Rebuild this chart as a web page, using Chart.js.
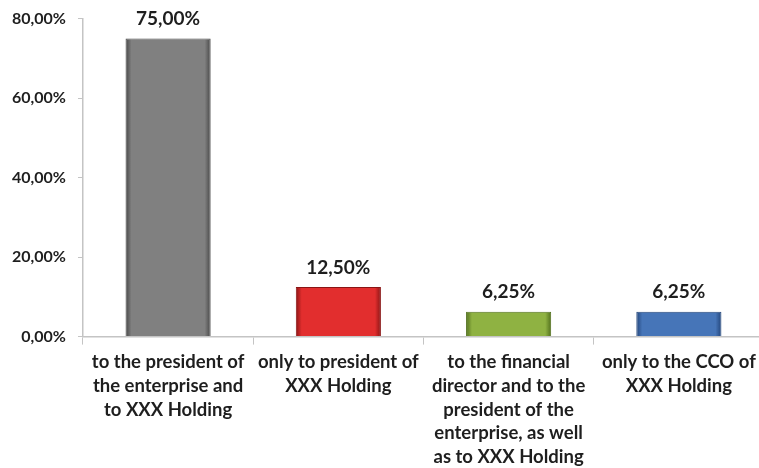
<!DOCTYPE html>
<html>
<head>
<meta charset="utf-8">
<script src="https://cdn.jsdelivr.net/npm/chart.js@4/dist/chart.umd.min.js"></script>
<style>
    html, body { margin: 0; padding: 0; background: #fff; overflow: hidden; }
    #wrap { width: 764px; height: 478px; margin-top: -3px; }
</style>
</head>
<body>
<div id="wrap"><canvas id="reportChart"></canvas></div>
<script>
// who the report goes to, share of answers in percent
const categories = [
    ['to the president of', 'the enterprise and', 'to XXX Holding'],
    ['only to president of', 'XXX Holding'],
    ['to the financial', 'director and to the', 'president of the', 'enterprise, as well', 'as to XXX Holding'],
    ['only to the CCO of', 'XXX Holding']
];
const shares = [75, 12.5, 6.25, 6.25];
const barColors = ['#808080', '#e22e2e', '#8fb242', '#4675b8'];
const edgeColors = ['#474747', '#8a1414', '#52701d', '#23457a'];
const yTicks = [0, 20, 40, 60, 80];

const FONT = 'Lato, "Open Sans", sans-serif';
const AXIS = '#c4c4c4';

function pct(v) {
    return v.toFixed(2).replace('.', ',') + '%';
}

// darker fringe on both sides of every bar
function barFill(c) {
    let x = c.chart.scales.x;
    if (!x || x.width === undefined) return barColors[c.dataIndex];
    let cx = x.getPixelForValue(c.dataIndex);
    let half = x.width / categories.length * 0.25;
    let g = c.chart.ctx.createLinearGradient(cx - half, 0, cx + half, 0);
    g.addColorStop(0, edgeColors[c.dataIndex]);
    g.addColorStop(0.07, barColors[c.dataIndex]);
    g.addColorStop(0.93, barColors[c.dataIndex]);
    g.addColorStop(1, edgeColors[c.dataIndex]);
    return g;
}

const valueLabels = {
    id: 'valueLabels',
    afterDatasetsDraw(chart) {
        let ctx = chart.ctx;
        let meta = chart.getDatasetMeta(0);
        ctx.save();
        ctx.font = 'bold 19px ' + FONT;
        ctx.fillStyle = '#1e1e1e';
        ctx.textAlign = 'center';
        ctx.textBaseline = 'bottom';
        meta.data.forEach(function (bar, i) {
            ctx.fillText(pct(shares[i]), bar.x, bar.y - 10);
        });
        ctx.restore();
    }
};

new Chart(document.getElementById('reportChart'), {
    type: 'bar',
    data: {
        labels: categories,
        datasets: [{
            data: shares,
            backgroundColor: barFill,
            borderColor: edgeColors,
            borderWidth: 1,
            categoryPercentage: 1,
            barPercentage: 0.5
        }]
    },
    options: {
        responsive: true,
        maintainAspectRatio: false,
        animation: false,
        layout: { padding: { top: 9, left: 0, right: 0, bottom: 0 } },
        plugins: {
            legend: { display: false },
            tooltip: { enabled: false }
        },
        scales: {
            y: {
                min: 0,
                max: 80,
                afterBuildTicks(axis) {
                    axis.ticks = yTicks.map(v => ({ value: v }));
                },
                grid: { drawOnChartArea: false, color: AXIS, tickLength: 5 },
                border: { color: AXIS, width: 1.5 },
                ticks: {
                    callback: v => pct(v),
                    color: '#1e1e1e',
                    padding: 12,
                    font: { family: FONT, size: 16, weight: 'bold' }
                }
            },
            x: {
                grid: { drawOnChartArea: false, color: AXIS, tickLength: 8, offset: true },
                border: { color: AXIS, width: 1.5 },
                ticks: {
                    maxRotation: 0,
                    autoSkip: false,
                    color: '#1e1e1e',
                    padding: 6,
                    font: { family: FONT, size: 18.5, weight: 'bold', lineHeight: 1.28 }
                }
            }
        }
    },
    plugins: [valueLabels]
});
</script>
</body>
</html>
